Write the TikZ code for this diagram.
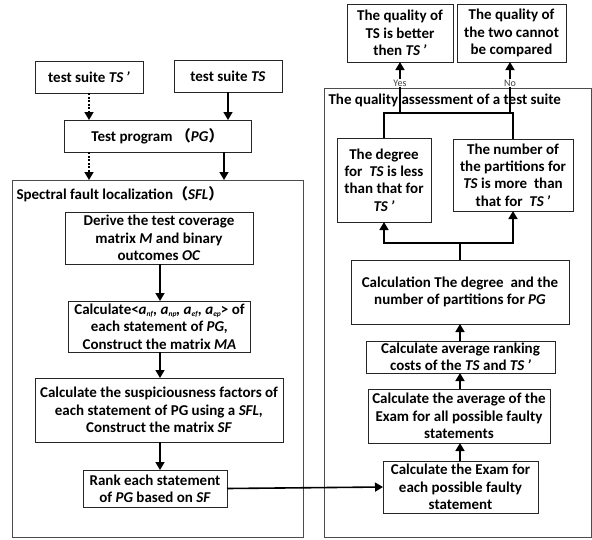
\documentclass[tikz,border=0pt]{standalone}
\usepackage{fontspec}
\setmainfont{Carlito}
\newfontfamily\cjkfont{Noto Sans CJK SC}
\usetikzlibrary{shapes, arrows.meta, positioning}
\newcommand{\TSp}{\textit{TS}\,\textit{’}}
\newcommand{\asub}[1]{\textit{a}\raisebox{-2pt}{\fontsize{7.5}{8}\selectfont\textit{#1}}}

\begin{document}
\begin{tikzpicture}[x=1pt, y=-1pt,
            font=\fontsize{15}{17.3}\selectfont\bfseries,
            box/.style={draw=black!85, line width=0.9pt, rectangle, align=center, inner sep=0pt, outer sep=0pt},
            frame/.style={draw=black!70, line width=1pt, rectangle, inner sep=0pt, outer sep=0pt},
            arr/.style={line width=1.6pt, -{Triangle[length=8pt, width=9pt]}},
            darr/.style={arr, dash pattern=on 2pt off 1.5pt},
            link/.style={line width=1.6pt},
            yesno/.style={fill=white, inner sep=1pt, font=\fontsize{10}{11}\selectfont, text=black!75}]
            \useasboundingbox (0,0) rectangle (592,539);

            \node[frame, minimum width=291pt, minimum height=357pt] (sfl) at (157.5,358.5) {};
            \node[frame, minimum width=267pt, minimum height=449pt] (qa) at (457.5,312.5) {};
            \node[anchor=west] (sfltitle) at (13,194) {Spectral fault localization{\cjkfont （}\textit{SFL}{\cjkfont ）}};
            \node[anchor=west] (qatitle) at (325,100) {The quality assessment of a test suite};

            \node[box, minimum width=108pt, minimum height=32pt] (tsprime) at (89,77) {test suite \TSp};
            \node[box, minimum width=108pt, minimum height=32pt] (ts) at (228,76) {test suite \textit{TS}};
            \node[box, minimum width=187pt, minimum height=32pt] (pg) at (157.5,136) {Test program {\cjkfont （}\textit{PG}{\cjkfont ）}};

            \node[box, minimum width=188pt, minimum height=52pt] (derive) at (159,238) {Derive the test coverage\\matrix \textit{M} and binary\\outcomes \textit{OC}};
            \node[box, minimum width=182pt, minimum height=51pt] (calca) at (159.5,326.5) {Calculate<\asub{nf}\textit{,} \asub{np}\textit{,} \asub{ef}\textit{,} \asub{ep}> of\\each statement of \textit{PG,}\\Construct the matrix \textit{MA}};
            \node[box, minimum width=248pt, minimum height=64pt] (susp) at (159,410) {Calculate the suspiciousness factors of\\each statement of PG using a \textit{SFL,}\\Construct the matrix \textit{SF}};
            \node[box, minimum width=144pt, minimum height=37pt] (rank) at (155,488.5) {Rank each statement\\of \textit{PG} based on \textit{SF}};

            \node[box, minimum width=106pt, minimum height=58pt] (better) at (400,33) {The quality of\\TS is better\\then \TSp};
            \node[box, minimum width=109pt, minimum height=58pt] (nocomp) at (511.5,33) {The quality of\\the two cannot\\be compared};
            \node[box, minimum width=94pt, minimum height=84pt] (degree) at (384,180) {The degree\\for~ \textit{TS} is less\\than that for\\\TSp};
            \node[box, minimum width=120pt, minimum height=72pt] (number) at (513,175) {The number of\\the partitions for\\\textit{TS} is more~ than\\that for~ \TSp};
            \node[box, minimum width=218pt, minimum height=64pt] (calcdeg) at (460,292) {Calculation The degree~ and the\\number of partitions for \textit{PG}};
            \node[box, minimum width=189pt, minimum height=32pt] (avgrank) at (460.5,357) {Calculate average ranking\\costs of the \textit{TS} and \TSp};
            \node[box, minimum width=182pt, minimum height=54pt] (avgexam) at (459,416) {Calculate the average of the\\Exam for all possible faulty\\statements};
            \node[box, minimum width=155pt, minimum height=52pt] (exam) at (460.5,487) {Calculate the Exam for\\each possible faulty\\statement};

            \coordinate (split) at (460,243);
            \coordinate (bar) at (384,113);

            \draw[darr] (tsprime.south) -- (tsprime.south |- pg.north);
            \draw[arr] (ts.south) -- (ts.south |- pg.north);
            \draw[darr] (pg.south -| tsprime.south) -- (tsprime.south |- sfl.north);
            \draw[arr] (pg.south -| 224,0) -- (sfl.north -| 224,0);
            \draw[arr] (derive.south -| 160,0) -- (calca.north -| 160,0);
            \draw[arr] (calca.south -| 160,0) -- (susp.north -| 160,0);
            \draw[arr] (susp.south -| 160,0) -- (rank.north -| 160,0);
            \draw[arr] (rank.east) -- (exam.west);
            \draw[arr] (exam.north -| split) -- (avgexam.south -| split);
            \draw[arr] (avgexam.north -| split) -- (avgrank.south -| split);
            \draw[arr] (avgrank.north -| split) -- (calcdeg.south -| split);
            \draw[link] (calcdeg.north -| split) -- (split);
            \draw[arr] (split) -| (degree.south);
            \draw[arr] (split) -| (number.south);
            \draw[link] (degree.north) |- (bar) -| (number.north);
            \draw[arr] (bar -| better.south) -- node[yesno, pos=0.59] (yes) {Yes} (better.south);
            \draw[arr] (bar -| 510,0) -- node[yesno, pos=0.59] (no) {No} (nocomp.south -| 510,0);
        \end{tikzpicture}
\end{document}
